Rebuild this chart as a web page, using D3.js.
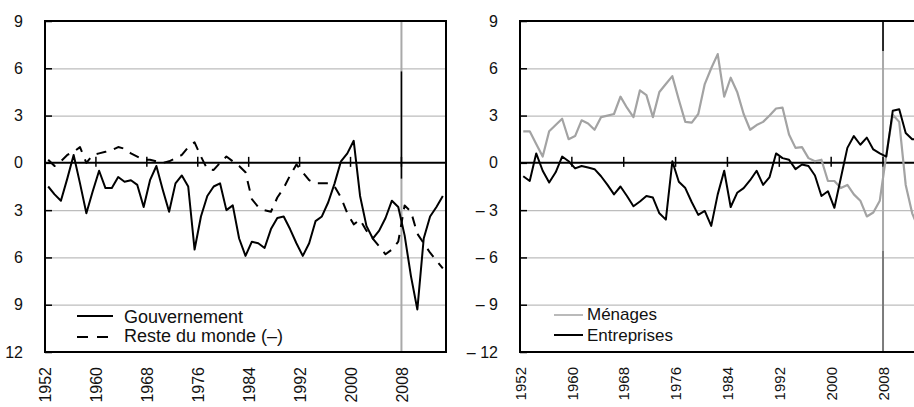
<!DOCTYPE html>
<html><head><meta charset="utf-8">
<script src="https://cdn.jsdelivr.net/npm/d3@7"></script>
<style>
html,body{margin:0;padding:0;background:#fff;}
svg{display:block;font-family:"Liberation Sans",Arial,sans-serif;}
</style></head>
<body><svg id="c" width="914" height="407"></svg>
<script>
// ---- data ----
const yearsL = d3.range(1952, 2015);   // 1952..2014
const yearsR = d3.range(1952, 2014);   // 1952..2013
const gouvernement = [-1.5,-2.0,-2.4,-1.0,0.5,-1.3,-3.2,-1.8,-0.5,-1.6,
  -1.6,-0.9,-1.2,-1.1,-1.4,-2.8,-1.1,-0.2,-1.7,-3.1,
  -1.3,-0.8,-1.5,-5.5,-3.4,-2.1,-1.5,-1.3,-3.0,-2.7,
  -4.8,-5.9,-5.0,-5.1,-5.4,-4.2,-3.5,-3.4,-4.2,-5.1,
  -5.9,-5.1,-3.7,-3.4,-2.5,-1.3,0.1,0.6,1.4,-2.1,
  -4.0,-4.8,-4.3,-3.5,-2.4,-2.8,-4.6,-7.2,-9.3,-4.8,
  -3.4,-2.8,-2.1];
const resteDuMonde = [0.2,-0.2,0.1,0.5,0.7,1.0,0.0,0.5,0.6,0.7,
  0.8,1.0,0.9,0.6,0.4,0.2,0.2,0.1,0.0,0.1,
  0.3,0.5,1.0,1.3,0.4,-0.4,-0.45,0.0,0.4,0.1,
  -0.2,-0.6,-2.3,-2.8,-3.0,-3.1,-2.2,-1.6,-0.8,-0.1,
  -0.6,-1.1,-1.3,-1.3,-1.3,-1.5,-2.2,-3.2,-3.9,-3.6,
  -4.3,-4.8,-5.3,-5.8,-5.5,-5.0,-2.7,-3.1,-4.5,-5.1,
  -5.7,-6.2,-6.7];
const menages = [2.0,2.0,1.2,0.4,2.0,2.4,2.8,1.5,1.7,2.7,
  2.5,2.1,2.9,3.0,3.1,4.2,3.5,2.9,4.6,4.3,
  2.9,4.5,5.0,5.5,4.0,2.6,2.55,3.1,5.0,6.0,
  6.9,4.2,5.4,4.5,3.1,2.1,2.4,2.6,3.0,3.45,
  3.5,1.8,0.95,1.0,0.3,0.1,0.2,-1.15,-1.15,-1.6,
  -1.4,-2.0,-2.4,-3.4,-3.15,-2.4,0.5,3.05,2.6,-1.4,
  -3.2,-4.2];
const entreprises = [-0.85,-1.15,0.6,-0.5,-1.25,-0.6,0.4,0.1,-0.35,-0.2,
  -0.3,-0.4,-0.85,-1.4,-2.0,-1.5,-2.1,-2.75,-2.45,-2.1,
  -2.2,-3.2,-3.6,0.1,-1.2,-1.6,-2.5,-3.3,-3.05,-4.0,
  -2.0,-0.5,-2.8,-1.9,-1.6,-1.1,-0.5,-1.4,-0.9,0.6,
  0.3,0.2,-0.4,-0.1,-0.2,-0.8,-2.1,-1.8,-2.85,-0.95,
  0.95,1.7,1.15,1.6,0.85,0.6,0.4,3.3,3.4,1.9,
  1.5,1.5];
const xTicks = [1952,1960,1968,1976,1984,1992,2000,2008];
const yTicks = [9,6,3,0,-3,-6,-9,-12];
const markYear = 2008;
const legendLeft = ["Gouvernement","Reste du monde (–)"];
const legendRight = ["Ménages","Entreprises"];

// ---- layout ----
const svg = d3.select("#c");
const plotTop = 21, plotBottom = 352;
const y = d3.scaleLinear().domain([-12, 9]).range([plotBottom, plotTop]);
const fmtSigned = v => v < 0 ? "– " + Math.abs(v) : String(v);
const fmtAbs = v => String(Math.abs(v));   // left panel: signs cropped off in the source

function panel(x0, x1, series, cfg) {
  const x = d3.scaleLinear().domain([1952, 2015]).range([x0, x1]);
  const g = svg.append("g");
  const W = x1 - x0;
  const clipId = "clip" + Math.round(x0);
  svg.append("clipPath").attr("id", clipId).append("rect")
    .attr("x", x0).attr("y", plotTop).attr("width", W).attr("height", plotBottom - plotTop);

  // grid
  const grid = g.append("g").attr("transform", `translate(${x0},0)`)
    .call(d3.axisRight(y).tickValues(yTicks.filter(v => v !== 9 && v !== -12 && v !== 0)).tickSize(W).tickFormat(""));
  grid.select(".domain").remove();
  grid.selectAll("line").attr("stroke", "#bdbdbd").attr("stroke-width", 1.2);

  // 2008 marker
  const xm = x(markYear);
  g.append("line").attr("x1", xm).attr("x2", xm).attr("y1", y(9)).attr("y2", y(-12))
    .attr("stroke", "#a9a9a9").attr("stroke-width", 2);
  cfg.markerSegs.forEach(s => {
    g.append("line").attr("x1", xm).attr("x2", xm).attr("y1", y(s.from)).attr("y2", y(s.to))
      .attr("stroke", s.color).attr("stroke-width", s.w);
  });

  // zero line
  g.append("line").attr("x1", x0).attr("x2", x1).attr("y1", y(0)).attr("y2", y(0))
    .attr("stroke", "#000").attr("stroke-width", 2);
  // ticks on zero line
  g.selectAll(".zt").data(xTicks.slice(1)).join("line")
    .attr("x1", d => x(d)).attr("x2", d => x(d))
    .attr("y1", y(0) - 6).attr("y2", y(0) + 4)
    .attr("stroke", "#000").attr("stroke-width", 1.5);

  // series
  const sg = g.append("g").attr("clip-path", `url(#${clipId})`);
  series.forEach(s => {
    const line = d3.line().x((d, i) => x(s.years[i] + 0.5)).y(d => y(d));
    sg.append("path").attr("d", line(s.values)).attr("fill", "none")
      .attr("stroke", s.color).attr("stroke-width", s.w)
      .attr("stroke-dasharray", s.dash || null)
      .attr("stroke-linejoin", "round");
  });

  // frame
  g.append("rect").attr("x", x0).attr("y", plotTop).attr("width", W).attr("height", plotBottom - plotTop)
    .attr("fill", "none").attr("stroke", "#000").attr("stroke-width", 2);

  // inward y ticks
  const yt = g.append("g").attr("transform", `translate(${x0},0)`)
    .call(d3.axisRight(y).tickValues(yTicks).tickSize(7).tickFormat(""));
  yt.select(".domain").remove();
  yt.selectAll("line").attr("stroke", "#000").attr("stroke-width", 1.5);

  // y labels
  const yl = g.append("g").attr("transform", `translate(${x0},0)`)
    .call(d3.axisLeft(y).tickValues(yTicks).tickSize(0).tickPadding(22).tickFormat(cfg.yFormat));
  yl.select(".domain").remove();
  yl.selectAll("text").attr("font-size", 16).attr("fill", "#111")
    .attr("font-family", '"Liberation Sans",Arial,sans-serif');

  // x labels
  const xl = g.append("g").attr("transform", `translate(0,${plotBottom})`)
    .call(d3.axisBottom(x).tickValues(xTicks).tickSize(0).tickFormat(d3.format("d")));
  xl.select(".domain").remove();
  xl.selectAll("text").attr("transform", "rotate(-90)").attr("text-anchor", "end")
    .attr("x", -15).attr("y", 0).attr("dy", "0.35em")
    .attr("font-size", cfg.xFont).attr("fill", "#111")
    .attr("font-family", '"Liberation Sans",Arial,sans-serif');

  // legend
  const lg = g.append("g");
  cfg.legend.forEach(L => {
    lg.append("line").attr("x1", L.lx0).attr("x2", L.lx1).attr("y1", L.ly).attr("y2", L.ly)
      .attr("stroke", L.color).attr("stroke-width", L.w).attr("stroke-dasharray", L.dash || null);
    lg.append("text").attr("x", L.tx).attr("y", L.ty).attr("font-size", L.fs)
      .attr("fill", "#111").text(L.label);
  });
}

panel(45, 446, [
  {years: yearsL, values: resteDuMonde, color: "#000", w: 2, dash: "10,8"},
  {years: yearsL, values: gouvernement, color: "#000", w: 2}
], {
  yFormat: fmtAbs,
  xFont: 16,
  markerSegs: [{from: 5.8, to: -1.0, color: "#000", w: 1.5}],
  legend: [
    {label: legendLeft[0], lx0: 77, lx1: 113, ly: 316, color: "#000", w: 2, tx: 124, ty: 323, fs: 18},
    {label: legendLeft[1], lx0: 77, lx1: 113, ly: 337, color: "#000", w: 2, dash: "11,9", tx: 124, ty: 342, fs: 18}
  ]
});

panel(520, 928.4, [
  {years: yearsR, values: menages, color: "#a3a3a3", w: 2.2},
  {years: yearsR, values: entreprises, color: "#000", w: 2}
], {
  yFormat: fmtSigned,
  xFont: 15,
  markerSegs: [{from: 9, to: 7.1, color: "#000", w: 1.5}, {from: -5.6, to: -12, color: "#6e6e6e", w: 1.5}],
  legend: [
    {label: legendRight[0], lx0: 554, lx1: 583, ly: 315, color: "#a3a3a3", w: 1.5, tx: 587, ty: 320, fs: 17},
    {label: legendRight[1], lx0: 554, lx1: 583, ly: 335, color: "#000", w: 2, tx: 587, ty: 340.5, fs: 17}
  ]
});
</script>
</body></html>
